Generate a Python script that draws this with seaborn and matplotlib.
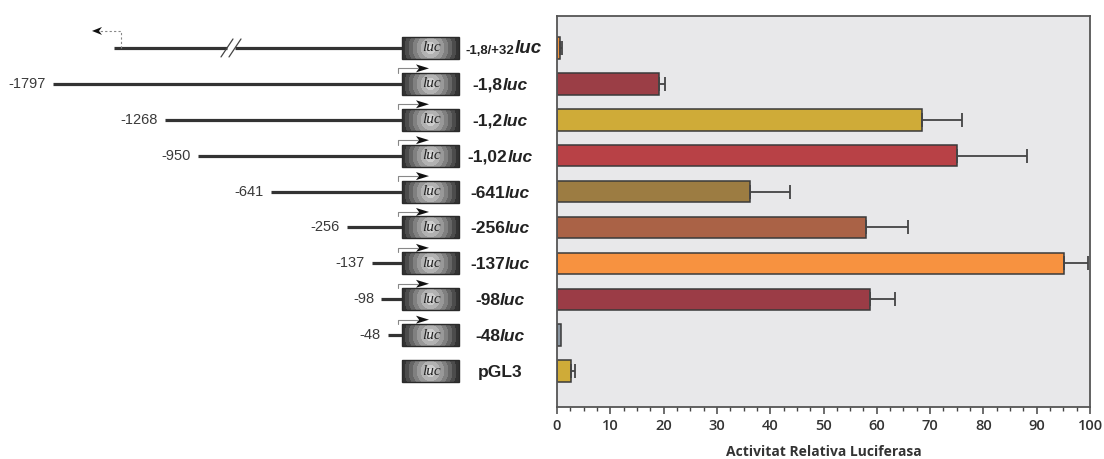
import numpy as np
import seaborn as sns
import matplotlib.pyplot as plt
from matplotlib.patches import Rectangle, Polygon
from matplotlib.ticker import MultipleLocator

# Data
constructs = ['-1,8/+32luc', '-1,8luc', '-1,2luc', '-1,02luc', '-641luc',
              '-256luc', '-137luc', '-98luc', '-48luc', 'pGL3']
activity = [0.5, 19.2, 68.4, 75.1, 36.3, 58.0, 95.1, 58.8, 0.8, 2.7]
activity_err = [0.4, 1.1, 7.5, 13.0, 7.4, 7.8, 4.6, 4.7, 0.0, 0.6]
bar_colors = ['#F0923C', '#9B3E46', '#CFAB38', '#B84146', '#9C7C42',
              '#AA6246', '#F79240', '#9B3C46', '#8C97A2', '#CFAB38']

# Schematic text
promoter_start = ['', '-1797', '-1268', '-950', '-641', '-256', '-137', '-98', '-48', '']
label_prefix = ['-1,8/+32', '-1,8', '-1,2', '-1,02', '-641', '-256', '-137', '-98', '-48', 'pGL3']
label_suffix = ['luc'] * 9 + ['']

# Schematic layout (pixel x positions in the left panel)
line_start_px = [114, 53, 165, 198, 271, 347, 372, 381, 388, None]
box_left, box_right = 402, 459

sns.set_style('white')
plt.rcParams['font.family'] = ['Liberation Sans', 'DejaVu Sans']

W, H = 1104, 459
fig = plt.figure(figsize=(W / 100, H / 100), dpi=100)
ax_l, ax_r, ax_t, ax_b = 557, 1090, 16, 407
y_top, y_bot = -0.89, 10.0
pos = [ax_l / W, 1 - ax_b / H, (ax_r - ax_l) / W, (ax_b - ax_t) / H]
ax = fig.add_axes(pos)
ax0 = fig.add_axes([0, pos[1], ax_l / W, pos[3]])

n = len(constructs)
rows = np.arange(n)

# Bar chart
sns.barplot(x=activity, y=constructs, hue=constructs, palette=bar_colors,
            legend=False, orient='h', width=0.6, saturation=1,
            edgecolor='#3a3a3a', linewidth=1.1, ax=ax)
err = np.array(activity_err)
mask = err > 0
ax.errorbar(np.array(activity)[mask], rows[mask],
            xerr=[np.zeros(mask.sum()), err[mask]], fmt='none',
            ecolor='#444444', elinewidth=1.3, capsize=5, capthick=1.3)

ax.set_facecolor('#E8E8EA')
ax.set_xlim(0, 100)
ax.set_ylim(y_bot, y_top)
ax.set_yticks([])
ax.set_ylabel('')
ax.xaxis.set_major_locator(MultipleLocator(10))
ax.xaxis.set_minor_locator(MultipleLocator(2.5))
ax.tick_params(axis='x', which='major', direction='out', length=5, width=1.1,
               color='#444444', labelsize=10.5, labelcolor='#333333', pad=4,
               bottom=True)
ax.tick_params(axis='x', which='minor', direction='out', length=3, width=1.0,
               color='#444444', bottom=True)
for lab in ax.get_xticklabels():
    lab.set_fontfamily('Open Sans')
    lab.set_fontweight('semibold')
for sp in ax.spines.values():
    sp.set_color('#555555')
    sp.set_linewidth(1.3)
ax.set_xlabel('Activitat Relativa Luciferasa', fontsize=10, fontweight='bold',
              family='Open Sans', color='#333333', labelpad=8)

# Schematic panel: x in pixels, y shares the bar rows
px_per_row = (ax_b - ax_t) / (y_bot - y_top)
def dy(px):
    return px / px_per_row

yy, xx = np.mgrid[0:22, 0:57]
r = np.sqrt(((xx - 28) / 20.0) ** 2 + ((yy - 10.5) / 20.0) ** 2)
shade = np.clip(0.95 - 0.5 * r, 0.25, 1)
shade = np.floor(shade * 10) / 10

line_col = '#333333'
for i in range(n):
    yc = rows[i]
    half = dy(11)
    ax0.imshow(shade, cmap='gray', vmin=0, vmax=1, aspect='auto',
               interpolation='bilinear',
               extent=(box_left, box_right, yc + half, yc - half), zorder=3)
    ax0.add_patch(Rectangle((box_left, yc - half), box_right - box_left, 2 * half,
                            fill=False, ec='#2a2a2a', lw=1, zorder=4))
    ax0.text((box_left + box_right) / 2 + 1, yc, 'luc', family='Liberation Serif',
             style='italic', fontsize=11, color='#222222', ha='center',
             va='center', zorder=5)

    x0 = line_start_px[i]
    if x0 is not None:
        if i == 0:
            ax0.plot([x0, 227], [yc, yc], color=line_col, lw=2.3, solid_capstyle='butt')
            ax0.plot([235, box_left], [yc, yc], color=line_col, lw=2.3, solid_capstyle='butt')
            for sx in (221, 229):
                ax0.plot([sx, sx + 12], [yc + dy(9), yc - dy(9)], color='#444444', lw=0.9)
            ay = yc - dy(17)
            ax0.plot([121, 121, 100], [yc, ay, ay], color='#888888', lw=0.8,
                     ls=(0, (2, 2)))
            ax0.add_patch(Polygon([[102, ay - dy(4)], [92, ay], [102, ay + dy(4)],
                                   [99, ay]], closed=True, fc='#111111', ec='none'))
        else:
            ax0.plot([x0, box_left], [yc, yc], color=line_col, lw=2.3,
                     solid_capstyle='butt')
            ax0.text(x0 - 7, yc, promoter_start[i], fontsize=10.5, color='#3a3a3a',
                     ha='right', va='center')
            ay = yc - dy(15.5)
            ax0.plot([398, 398, 418], [yc - half, ay, ay], color='#888888', lw=0.8)
            ax0.add_patch(Polygon([[416, ay - dy(4)], [429, ay], [416, ay + dy(4)],
                                   [419, ay]], closed=True, fc='#111111', ec='none'))

ax0.set_xlim(0, ax_l)
ax0.set_ylim(y_bot, y_top)
ax0.axis('off')

# Construct labels: prefix bold, "luc" bold italic, centred as one string
renderer = fig.canvas.get_renderer()
for i in range(n):
    yc = rows[i]
    small = i == 0
    t1 = ax0.text(0, yc + dy(6), label_prefix[i], fontsize=9.5 if small else 12.5,
                  fontweight='bold', color='#222222', ha='left', va='baseline')
    parts = [t1]
    if label_suffix[i]:
        t2 = ax0.annotate(label_suffix[i], xy=(1, 0), xycoords=t1,
                          fontsize=13.5 if small else 12.5,
                          fontweight='bold', style='italic', color='#222222',
                          ha='left', va='bottom')
        parts.append(t2)
    w = sum(p.get_window_extent(renderer).width for p in parts)
    left = 466 if small else 500 - w / 2
    t1.set_x(left)

fig.savefig('out.png', dpi=100)
